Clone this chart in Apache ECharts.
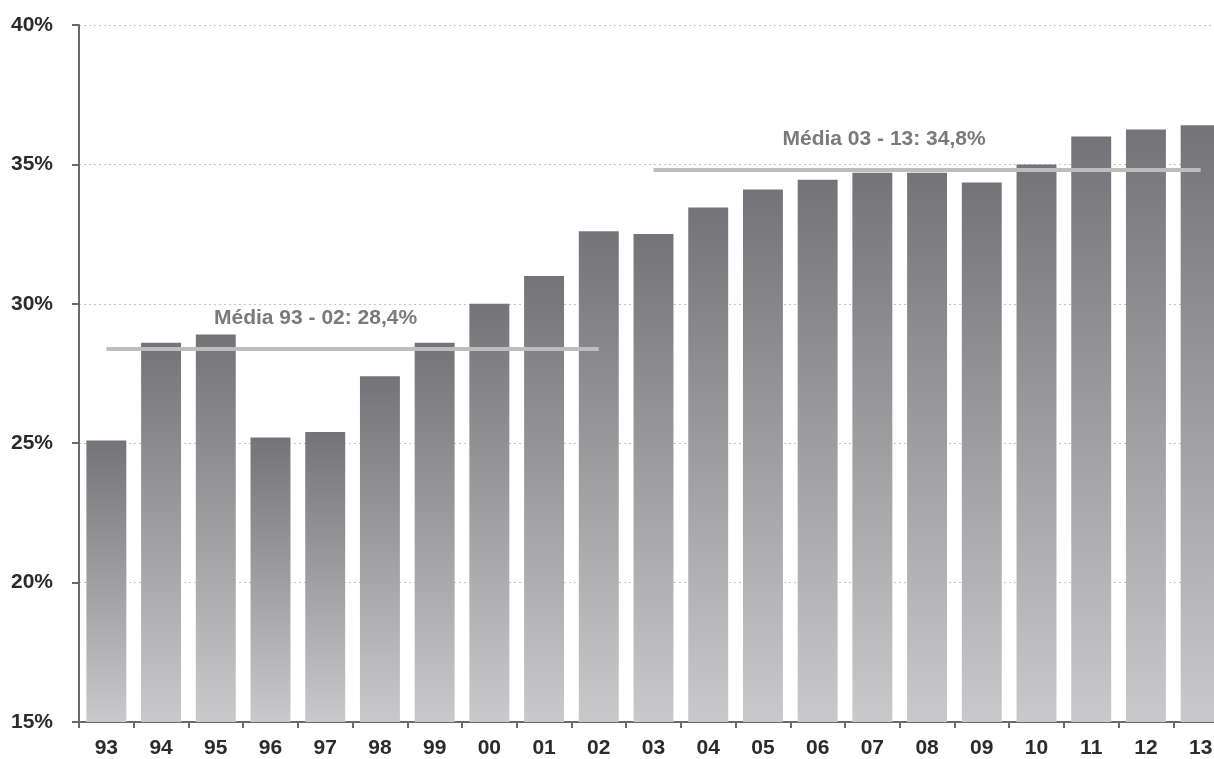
<!DOCTYPE html>
<html>
<head>
<meta charset="utf-8">
<script src="https://cdn.jsdelivr.net/npm/echarts@6/dist/echarts.min.js"></script>
<style>
  html, body { margin: 0; padding: 0; background: #ffffff; }
  #chart { width: 1214px; height: 759px; }
</style>
</head>
<body>
<div id="chart"></div>
<script>
// Anos (dois dígitos) e participação anual, em %
const years = ['93','94','95','96','97','98','99','00','01','02','03','04','05','06','07','08','09','10','11','12','13'];
const shares = [25.1, 28.6, 28.9, 25.2, 25.4, 27.4, 28.6, 30.0, 31.0, 32.6, 32.5, 33.45, 34.1, 34.45, 34.7, 34.7, 34.35, 35.0, 36.0, 36.25, 36.4];

// Médias dos dois períodos
const avgFirst = { from: '93', to: '02', value: 28.4, text: 'Média 93 - 02: 28,4%' };
const avgSecond = { from: '03', to: '13', value: 34.8, text: 'Média 03 - 13: 34,8%' };

// Eixo vertical
const yMin = 15, yMax = 40, yStep = 5;

const chart = echarts.init(document.getElementById('chart'), null, { renderer: 'canvas' });

const barGradient = new echarts.graphic.LinearGradient(0, 0, 0, 1, [
  { offset: 0, color: '#747478' },
  { offset: 1, color: '#c9c9cb' }
]);

const axisFont = '"Liberation Sans", Arial, sans-serif';

function avgLine(a, offset) {
  return [
    { coord: [a.from, a.value], label: { formatter: a.text, offset: offset } },
    { coord: [a.to, a.value] }
  ];
}

chart.setOption({
  animation: false,
  backgroundColor: '#ffffff',
  grid: {
    left: 79, top: 25, width: 1149, height: 697,
    containLabel: false, outerBoundsMode: 'none'
  },
  xAxis: {
    type: 'category',
    data: years,
    boundaryGap: true,
    axisLine: { show: true, lineStyle: { color: '#6a6a6a', width: 2 } },
    axisTick: { show: true, alignWithLabel: false, length: 6, lineStyle: { color: '#6a6a6a', width: 2 } },
    axisLabel: {
      color: '#2b2b2b', fontSize: 21, fontWeight: 'bold',
      fontFamily: axisFont, margin: 16
    },
    splitLine: { show: false }
  },
  yAxis: {
    type: 'value',
    min: yMin, max: yMax, interval: yStep,
    axisLine: { show: true, lineStyle: { color: '#6a6a6a', width: 2 } },
    axisTick: { show: true, length: 7, lineStyle: { color: '#6a6a6a', width: 2 } },
    axisLabel: {
      formatter: '{value}%', color: '#2b2b2b', fontSize: 21, fontWeight: 'bold',
      fontFamily: axisFont, margin: 26
    },
    splitLine: { show: true, lineStyle: { color: '#c4c4c4', type: [2, 3], width: 1 } }
  },
  series: [{
    type: 'bar',
    data: shares,
    barCategoryGap: '27%',
    itemStyle: { color: barGradient },
    markLine: {
      silent: true,
      symbol: ['none', 'none'],
      lineStyle: { color: '#bdbdbd', width: 4, type: 'solid' },
      label: {
        show: true, position: 'middle', distance: 20,
        color: '#7a7a7a', fontSize: 21, fontWeight: 'bold',
        fontFamily: axisFont
      },
      emphasis: { disabled: true },
      data: [
        avgLine(avgFirst, [-37, 0]),
        avgLine(avgSecond, [-43, 0])
      ]
    }
  }]
});
</script>
</body>
</html>
